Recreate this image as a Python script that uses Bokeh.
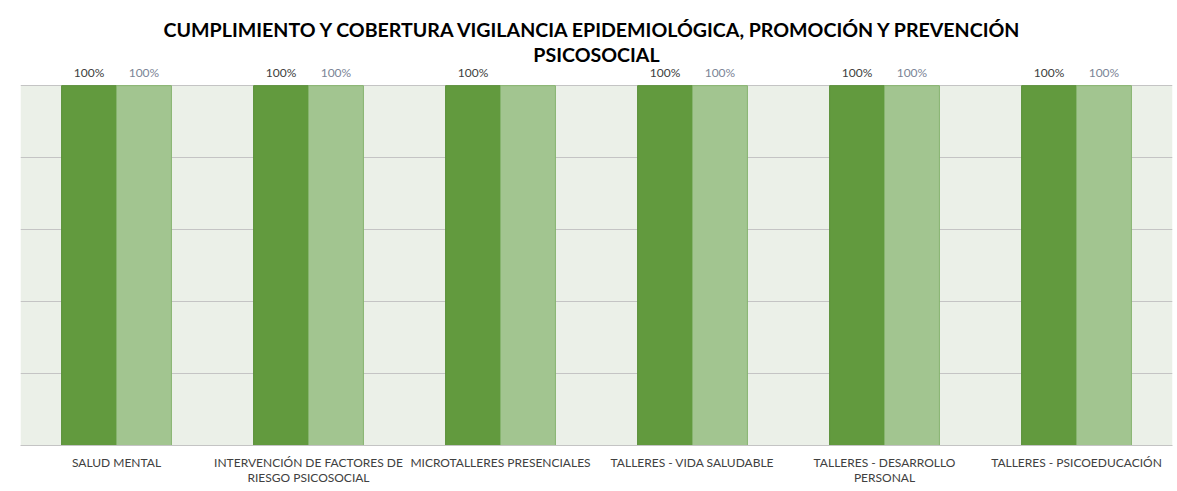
from bokeh.plotting import figure
from bokeh.models import ColumnDataSource, FactorRange, FixedTicker, LabelSet, Title, BoxAnnotation
from bokeh.core.properties import value
from bokeh.transform import dodge
from bokeh.embed import file_html
from bokeh.resources import INLINE

title_lines = [
    "CUMPLIMIENTO Y COBERTURA  VIGILANCIA EPIDEMIOLÓGICA, PROMOCIÓN Y PREVENCIÓN",
    "PSICOSOCIAL",
]
categories = [
    "SALUD MENTAL",
    "INTERVENCIÓN DE FACTORES DE\nRIESGO PSICOSOCIAL",
    "MICROTALLERES PRESENCIALES",
    "TALLERES - VIDA SALUDABLE",
    "TALLERES - DESARROLLO\nPERSONAL",
    "TALLERES - PSICOEDUCACIÓN",
]
cumplimiento = [100, 100, 100, 100, 100, 100]
cobertura = [100, 100, 100, 100, 100, 100]
cumplimiento_labels = ["100%", "100%", "100%", "100%", "100%", "100%"]
cobertura_labels = ["100%", "100%", "", "100%", "100%", "100%"]
y_ticks = [0, 20, 40, 60, 80, 100]

src = ColumnDataSource(dict(
    cat=categories,
    cum=cumplimiento,
    cob=cobertura,
    cum_lab=cumplimiento_labels,
    cob_lab=cobertura_labels,
))

p = figure(
    x_range=FactorRange(factors=categories, range_padding=0),
    y_range=(0, 105.6),
    width=1177, height=491,
    output_backend="svg", toolbar_location=None,
    min_border_left=20, min_border_right=5, min_border_top=65, min_border_bottom=46,
    background_fill_color="white", border_fill_color="white",
    outline_line_color=None,
)

# title lines (closest to frame added first)
t2 = Title(text=title_lines[1], align="center", text_font="Lato", text_font_style="bold",
           text_font_size="19.6px", text_color="#000000", standoff=0)
p.add_layout(t2, "above")
t1 = Title(text=title_lines[0], align="center", text_font="Lato", text_font_style="bold",
           text_font_size="19.6px", text_color="#000000", standoff=0)
p.add_layout(t1, "above")

bg = BoxAnnotation(bottom=0, top=100, fill_color="#EBF0E8", fill_alpha=1.0, line_color=None,
                   level="image")
p.add_layout(bg)

off = 0.143
w = 0.286
p.vbar(x=dodge("cat", -off, range=p.x_range), top="cum", width=w, source=src,
       fill_color="#629A3E", line_color="#5A9038", line_width=1)
p.vbar(x=dodge("cat", off, range=p.x_range), top="cob", width=w, source=src,
       fill_color="#A2C590", line_color="#86B46E", line_width=1)

lab1 = LabelSet(x=dodge("cat", -off, range=p.x_range), y="cum", text="cum_lab", source=src,
                text_align="center", text_baseline="bottom", y_offset=6,
                text_font=value("Lato"), text_font_size=value("12px"), text_color="#404040")
lab2 = LabelSet(x=dodge("cat", off, range=p.x_range), y="cob", text="cob_lab", source=src,
                text_align="center", text_baseline="bottom", y_offset=6,
                text_font=value("Lato"), text_font_size=value("12px"), text_color="#7B8596")
p.add_layout(lab1)
p.add_layout(lab2)

p.yaxis.visible = False
p.yaxis.ticker = FixedTicker(ticks=y_ticks)
p.ygrid.ticker = FixedTicker(ticks=y_ticks)
p.ygrid.grid_line_color = "#C4C4C4"
p.ygrid.grid_line_width = 1
p.xgrid.grid_line_color = None

p.xaxis.axis_line_color = "#C4C4C4"
p.xaxis.major_tick_line_color = None
p.xaxis.minor_tick_line_color = None
p.xaxis.major_label_text_font = "Lato"
p.xaxis.major_label_text_font_size = "12px"
p.xaxis.major_label_text_color = "#404040"
p.xaxis.major_label_standoff = 3
p.xaxis.major_label_text_line_height = 1.0

open("out.html", "w").write(file_html(p, INLINE))
